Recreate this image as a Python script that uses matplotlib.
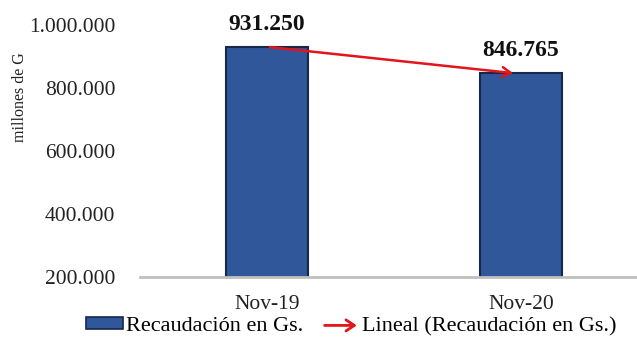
import matplotlib.pyplot as plt
import numpy as np
from matplotlib.patches import Patch, FancyArrowPatch
from matplotlib.lines import Line2D
from matplotlib.legend_handler import HandlerBase
from matplotlib.ticker import FuncFormatter

# data
categories = ["Nov-19", "Nov-20"]
values = [931250, 846765]
y_ticks = [200000, 400000, 600000, 800000, 1000000]
bar_label = "Recaudación en Gs."
trend_label = "Lineal (Recaudación en Gs.)"

plt.rcParams['font.family'] = ['Liberation Serif', 'DejaVu Serif']

bar_color = '#2F579A'
edge_color = '#17284A'
trend_color = '#E3141B'


def miles(v, pos=None):
    return "{:,.0f}".format(v).replace(",", ".")


class HandlerArrow(HandlerBase):
    def create_artists(self, legend, orig_handle, xdescent, ydescent,
                       width, height, fontsize, trans):
        arr = FancyArrowPatch((-xdescent, height / 2), (-xdescent + width, height / 2),
                              arrowstyle='->,head_length=6,head_width=4',
                              color=trend_color, lw=2, transform=trans)
        return [arr]


fig = plt.figure(figsize=(6.37, 3.40), dpi=100)
ax = fig.add_axes([0.22, 0.185, 0.78, 0.741])

x = np.arange(len(categories))
ax.bar(x, values, width=0.32, color=bar_color, edgecolor=edge_color, linewidth=1.5,
       zorder=2)

# linear trend
coef = np.polyfit(x, values, 1)
trend = np.polyval(coef, x)
ax.annotate("", xy=(x[-1] - 0.02, trend[-1]), xytext=(x[0], trend[0]),
            arrowprops=dict(arrowstyle='->,head_length=0.6,head_width=0.35',
                            color=trend_color, lw=1.8), zorder=3)

for xi, v in zip(x, values):
    ax.text(xi, v + 38000, miles(v), ha='center', va='bottom',
            fontsize=17, fontweight='bold', color='#111111')

ax.set_ylim(200000, 1000000)
ax.set_xlim(-0.5, 1.457)
ax.set_yticks(y_ticks)
ax.yaxis.set_major_formatter(FuncFormatter(miles))
ax.set_xticks(x)
ax.set_xticklabels(categories)
ax.tick_params(axis='both', length=0, labelsize=15.5, colors='#222222')
ax.tick_params(axis='y', pad=18)
ax.tick_params(axis='x', pad=13)

for s in ['top', 'right', 'left']:
    ax.spines[s].set_visible(False)
ax.spines['bottom'].set_color('#BFBFBF')
ax.spines['bottom'].set_linewidth(2)

ax.set_ylabel("millones de G", fontsize=11.5, color='#222222')
ax.yaxis.set_label_coords(-0.225, 0.714)

handles = [Patch(facecolor=bar_color, edgecolor=edge_color, linewidth=1.2),
           Line2D([], [], color=trend_color)]
fig.legend(handles, [bar_label, trend_label], loc='center', bbox_to_anchor=(0.551, 0.04),
           ncol=2, frameon=False, fontsize=16, handlelength=1.7, handleheight=0.4,
           handletextpad=0.1, columnspacing=0.85,
           handler_map={Line2D: HandlerArrow()})

fig.savefig("out.png", dpi=100)
